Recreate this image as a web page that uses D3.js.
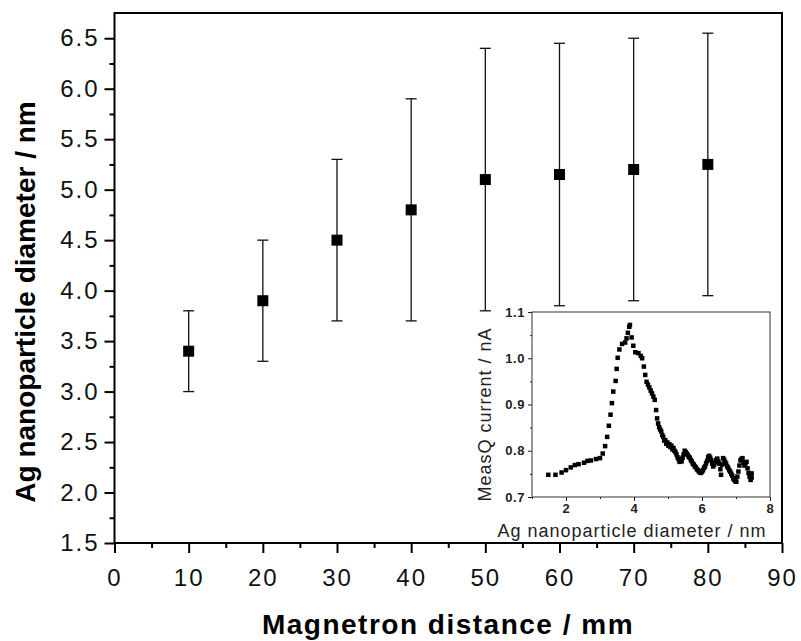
<!DOCTYPE html>
<html lang="en">
<head>
<meta charset="UTF-8">
<title>Ag nanoparticle diameter vs magnetron distance</title>
<script src="https://cdnjs.cloudflare.com/ajax/libs/d3/7.8.5/d3.min.js"></script>
<style>
  body { margin: 0; background: #fff; }
  svg { display: block; font-family: Arial, "Liberation Sans", sans-serif; }
  .main .tick text { font-size: 24px; letter-spacing: 2px; fill: #111; }
  .main .tick line { stroke: #000; stroke-width: 2; }
  .inset .tick text { font-size: 13px; font-weight: bold; letter-spacing: 0.6px; fill: #222; }
  .inset .tick line { stroke: #222; stroke-width: 1; }
  .domain { display: none; }
</style>
</head>
<body>
<svg id="chart" width="801" height="641"></svg>
<script>
// main series: diameter vs magnetron distance, with error bars
const distances = [10, 20, 30, 40, 50, 60, 70, 80];
const diameters = [3.4, 3.9, 4.5, 4.8, 5.1, 5.15, 5.2, 5.25];
const diameterErr = [0.4, 0.6, 0.8, 1.1, 1.3, 1.3, 1.3, 1.3];

const xTicks = [0, 10, 20, 30, 40, 50, 60, 70, 80, 90];
const xMinor = [5, 15, 25, 35, 45, 55, 65, 75, 85];
const yTicks = [1.5, 2.0, 2.5, 3.0, 3.5, 4.0, 4.5, 5.0, 5.5, 6.0, 6.5];
const yMinor = [1.75, 2.25, 2.75, 3.25, 3.75, 4.25, 4.75, 5.25, 5.75, 6.25];

// inset: MeasQ current vs particle diameter
const insetDiameter = [
  1.48, 1.69, 1.87, 2.00, 2.14, 2.26, 2.37, 2.53, 2.63, 2.73,
  2.88, 3.00, 3.08, 3.15, 3.21, 3.26, 3.31, 3.35, 3.39, 3.46,
  3.49, 3.52, 3.57, 3.65, 3.74, 3.78, 3.82, 3.86, 3.88, 3.93,
  3.98, 4.04, 4.13, 4.20, 4.24, 4.29, 4.33, 4.37, 4.41, 4.45,
  4.49, 4.53, 4.57, 4.61,
  4.65, 4.68, 4.71, 4.74, 4.77, 4.80, 4.83, 4.86, 4.89, 4.92,
  4.95, 4.98, 5.01, 5.04, 5.07, 5.10, 5.13, 5.16, 5.19, 5.22,
  5.25, 5.28, 5.31, 5.34, 5.37, 5.40, 5.43, 5.46, 5.49, 5.52,
  5.55, 5.58, 5.61, 5.64, 5.67, 5.70, 5.73, 5.76, 5.79, 5.82,
  5.85, 5.88, 5.91, 5.94, 5.97, 6.00, 6.03, 6.06, 6.09, 6.12,
  6.15, 6.18, 6.21, 6.24, 6.27, 6.30, 6.33, 6.36, 6.39, 6.42,
  6.45, 6.48, 6.51, 6.54, 6.56, 6.59, 6.62, 6.65, 6.68, 6.71,
  6.74, 6.77, 6.80, 6.83, 6.86, 6.89, 6.92, 6.95, 6.98, 7.01,
  7.04, 7.07, 7.10, 7.13, 7.16, 7.19, 7.22, 7.25, 7.28, 7.31,
  7.34, 7.37, 7.40, 7.43, 7.46, 7.46
];
const insetCurrent = [
  0.748, 0.748, 0.753, 0.758, 0.764, 0.769, 0.771, 0.774, 0.778, 0.779,
  0.782, 0.784, 0.794, 0.810, 0.830, 0.854, 0.878, 0.903, 0.928, 0.951,
  0.977, 1.001, 1.019, 1.031, 1.034, 1.043, 1.055, 1.068, 1.072, 1.045,
  1.027, 1.013, 1.011, 1.005, 1.000, 0.982, 0.964, 0.949, 0.943, 0.937,
  0.930, 0.924, 0.917, 0.910,
  0.888, 0.870, 0.859, 0.851, 0.846, 0.842, 0.834, 0.830, 0.822, 0.823,
  0.815, 0.818, 0.811, 0.814, 0.808, 0.811, 0.803, 0.806, 0.800, 0.797,
  0.792, 0.786, 0.782, 0.776, 0.779, 0.777, 0.785, 0.792, 0.800, 0.797,
  0.794, 0.791, 0.787, 0.785, 0.780, 0.777, 0.772, 0.770, 0.766, 0.764,
  0.760, 0.758, 0.755, 0.753, 0.752, 0.755, 0.758, 0.763, 0.766, 0.773,
  0.778, 0.786, 0.789, 0.785, 0.780, 0.772, 0.766, 0.770, 0.775, 0.780,
  0.783, 0.777, 0.772, 0.760, 0.748, 0.770, 0.784, 0.781, 0.776, 0.772,
  0.766, 0.763, 0.758, 0.755, 0.750, 0.746, 0.740, 0.737, 0.734, 0.733,
  0.744, 0.755, 0.768, 0.779, 0.782, 0.784, 0.774, 0.768, 0.773, 0.776,
  0.762, 0.752, 0.744, 0.737, 0.751, 0.742
];
const insetXTicks = [2, 4, 6, 8];
const insetXMinor = [1, 3, 5, 7];
const insetYTicks = [0.7, 0.8, 0.9, 1.0, 1.1];
const insetYMinor = [0.75, 0.85, 0.95, 1.05];

const svg = d3.select("#chart");

// ---- main plot ----
const x = d3.scaleLinear().domain([0, 90]).range([114.5, 782]);
const y = d3.scaleLinear().domain([1.5, 6.75]).range([543, 13]);

const main = svg.append("g").attr("class", "main");

main.append("g").attr("transform", `translate(0,${y(1.5)})`)
  .call(d3.axisBottom(x).tickValues(xMinor).tickSize(5).tickFormat(""));
main.append("g").attr("transform", `translate(0,${y(1.5)})`)
  .call(d3.axisBottom(x).tickValues(xTicks).tickSize(10).tickPadding(16).tickFormat(d3.format("d")));
main.append("g").attr("transform", `translate(${x(0)},0)`)
  .call(d3.axisLeft(y).tickValues(yMinor).tickSize(5).tickFormat(""));
main.append("g").attr("transform", `translate(${x(0)},0)`)
  .call(d3.axisLeft(y).tickValues(yTicks).tickSize(10).tickPadding(5).tickFormat(d3.format(".1f")));

main.append("rect")
  .attr("x", x(0)).attr("y", y(6.75))
  .attr("width", x(90) - x(0)).attr("height", y(1.5) - y(6.75))
  .attr("fill", "none").attr("stroke", "#000").attr("stroke-width", 2);

const pts = distances.map((d, i) => ({ d, v: diameters[i], e: diameterErr[i] }));

const bars = main.append("g").attr("stroke", "#111").attr("stroke-width", 1.3);
bars.selectAll("line.stem").data(pts).join("line").attr("class", "stem")
  .attr("x1", p => x(p.d)).attr("x2", p => x(p.d))
  .attr("y1", p => y(p.v - p.e)).attr("y2", p => y(p.v + p.e));
bars.selectAll("line.capTop").data(pts).join("line").attr("class", "capTop")
  .attr("x1", p => x(p.d) - 5.5).attr("x2", p => x(p.d) + 5.5)
  .attr("y1", p => y(p.v + p.e)).attr("y2", p => y(p.v + p.e));
bars.selectAll("line.capBot").data(pts).join("line").attr("class", "capBot")
  .attr("x1", p => x(p.d) - 5.5).attr("x2", p => x(p.d) + 5.5)
  .attr("y1", p => y(p.v - p.e)).attr("y2", p => y(p.v - p.e));

main.append("g").selectAll("rect").data(pts).join("rect")
  .attr("x", p => x(p.d) - 5.5).attr("y", p => y(p.v) - 5.5)
  .attr("width", 11).attr("height", 11).attr("fill", "#000");

svg.append("text")
  .attr("transform", `translate(35,302) rotate(-90)`)
  .attr("text-anchor", "middle")
  .attr("font-size", 28).attr("font-weight", "bold")
  .text("Ag nanoparticle diameter / nm");

svg.append("text")
  .attr("x", 448).attr("y", 634)
  .attr("text-anchor", "middle")
  .attr("font-size", 28).attr("font-weight", "bold").attr("letter-spacing", 1.5)
  .text("Magnetron distance / mm");

// ---- inset ----
const ix = d3.scaleLinear().domain([1, 8]).range([532, 770]);
const iy = d3.scaleLinear().domain([0.7, 1.1]).range([497, 312]);

const inset = svg.append("g").attr("class", "inset");

inset.append("rect")
  .attr("x", ix(1)).attr("y", iy(1.1))
  .attr("width", ix(8) - ix(1)).attr("height", iy(0.7) - iy(1.1))
  .attr("fill", "#fff").attr("stroke", "#333").attr("stroke-width", 1);

inset.append("g").attr("transform", `translate(0,${iy(0.7)})`)
  .call(d3.axisBottom(ix).tickValues(insetXMinor).tickSize(2).tickFormat(""));
inset.append("g").attr("transform", `translate(0,${iy(0.7)})`)
  .call(d3.axisBottom(ix).tickValues(insetXTicks).tickSize(4).tickPadding(3).tickFormat(d3.format("d")));
inset.append("g").attr("transform", `translate(${ix(1)},0)`)
  .call(d3.axisLeft(iy).tickValues(insetYMinor).tickSize(2).tickFormat(""));
inset.append("g").attr("transform", `translate(${ix(1)},0)`)
  .call(d3.axisLeft(iy).tickValues(insetYTicks).tickSize(4).tickPadding(3).tickFormat(d3.format(".1f")));

inset.append("g").selectAll("rect")
  .data(insetDiameter.map((d, i) => [d, insetCurrent[i]]))
  .join("rect")
  .attr("x", p => ix(p[0]) - 2.25).attr("y", p => iy(p[1]) - 2.25)
  .attr("width", 4.5).attr("height", 4.5).attr("fill", "#000");

svg.append("text")
  .attr("transform", `translate(491,${(iy(0.7) + iy(1.1)) / 2 + 10}) rotate(-90)`)
  .attr("text-anchor", "middle")
  .attr("font-size", 18).attr("fill", "#222").attr("letter-spacing", 1)
  .text("MeasQ current / nA");

svg.append("text")
  .attr("x", 632).attr("y", 537)
  .attr("text-anchor", "middle")
  .attr("font-size", 18).attr("fill", "#222").attr("letter-spacing", 1)
  .text("Ag nanoparticle diameter / nm");
</script>
</body>
</html>
